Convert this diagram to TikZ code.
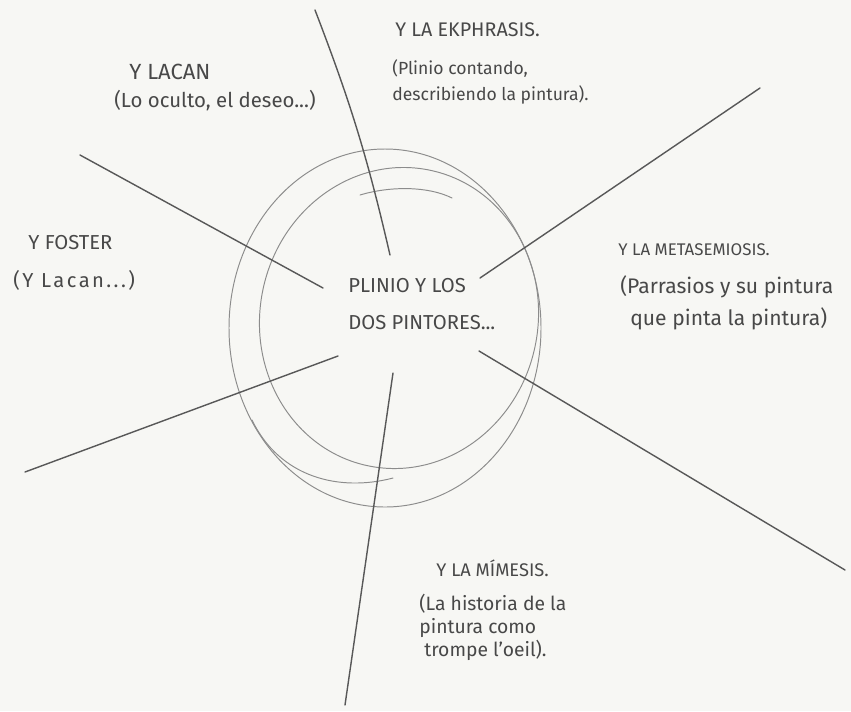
\documentclass[tikz,border=0pt]{standalone}
\usepackage{fontspec}
\setmainfont{Fira Sans}
\usetikzlibrary{positioning}
\definecolor{paper}{RGB}{247,247,244}
\definecolor{pencil}{RGB}{72,72,72}
\definecolor{graphite}{RGB}{88,88,88}
\definecolor{faintlead}{RGB}{140,140,140}
\tikzset{
    handhead/.style={anchor=west, inner sep=0pt, text=pencil, font=\fontsize{#1}{12}\selectfont},
    handhead/.default=10,
    handnote/.style 2 args={inner sep=0pt, text=pencil, align=left, font=\fontsize{#1}{#2}\selectfont},
    centretext/.style={anchor=west, inner sep=0pt, text=pencil, align=left, font=\fontsize{11.5}{21.5}\selectfont},
    spoke/.style={draw=graphite, line width=0.8pt, line cap=round},
    ring/.style={draw=faintlead, line width=0.55pt, line cap=round}
}

\begin{document}
\begin{tikzpicture}[x=0.02cm, y=-0.02cm]

% paper
\fill[paper] (0,0) rectangle (851,711);
\useasboundingbox (0,0) rectangle (851,711);

% the hand-drawn ring
\draw[ring] (385,328) ellipse[x radius=156, y radius=179];
\draw[ring, rotate around={-12:(399,318)}] (399,318) ellipse[x radius=139, y radius=151];
\draw[ring] (360,195) .. controls (390,186) and (428,186) .. (452,198);
\draw[ring] (252,420) .. controls (280,478) and (340,492) .. (393,478);

% centre
\node[centretext] (plinio) at (348,304) {PLINIO Y LOS\\DOS PINTORES...};

% labels round the ring
\node[handhead=12.5] (lacanhead) at (129,72) {Y LACAN};
\node[handnote={11.6}{14}, below=2mm of lacanhead.south west, anchor=north west, xshift=-3mm] (lacannote) {(Lo oculto, el deseo...)};

\node[handhead=11.2] (ekhead) at (395,30) {Y LA EKPHRASIS.};
\node[handnote={10}{15}, below=4.4mm of ekhead.south west, anchor=north west, xshift=-0.6mm] (eknote) {(Plinio contando,\\describiendo la pintura).};

\node[handhead=11.5] (fosterhead) at (28,243) {Y FOSTER};
\node[handnote={11.5}{15}, below=4mm of fosterhead.south west, anchor=north west, xshift=-3mm] (fosternote) {\addfontfeature{LetterSpace=12}(Y Lacan...)};

\node[handhead=9.6] (metahead) at (618,250) {Y LA METASEMIOSIS.};
\node[handnote={12}{18}, below=3.8mm of metahead.south west, anchor=north west, xshift=0.4mm] (metanote) {(Parrasios y su pintura\\\hspace*{2mm}que pinta la pintura)};

\node[handhead=10.4] (mimhead) at (436,568) {Y LA MÍMESIS.};
\node[handnote={11}{13}, below=3.4mm of mimhead.south west, anchor=north west, xshift=-3.4mm] (mimnote) {(La historia de la\\pintura como\\\hspace*{1mm}trompe l'oeil).};

% spokes
\coordinate (topfar) at (315,10);
\coordinate (topnear) at (390,255);
\coordinate (trfar) at (760,88);
\coordinate (trnear) at (480,278);
\coordinate (ulfar) at (80,155);
\coordinate (ulnear) at (323,288);
\coordinate (llfar) at (25,472);
\coordinate (llnear) at (338,356);
\coordinate (botfar) at (345,705);
\coordinate (botnear) at (393,373);
\coordinate (lrfar) at (845,570);
\coordinate (lrnear) at (479,351);

\draw[spoke] (topfar) to[bend left=4] (topnear);
\draw[spoke] (trfar) -- (trnear);
\draw[spoke] (ulfar) -- (ulnear);
\draw[spoke] (llfar) -- (llnear);
\draw[spoke] (botfar) -- (botnear);
\draw[spoke] (lrfar) -- (lrnear);

\end{tikzpicture}
\end{document}
